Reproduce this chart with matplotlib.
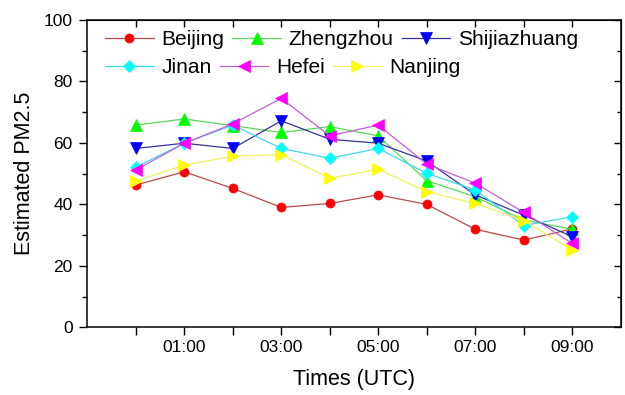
import numpy as np
import matplotlib
matplotlib.use("Agg")
import matplotlib.pyplot as plt
from matplotlib.ticker import MultipleLocator, FixedLocator, FixedFormatter

plt.rcParams['font.family'] = ['Liberation Sans', 'DejaVu Sans']

# hours (UTC) and estimated PM2.5 per city
hours = [0, 1, 2, 3, 4, 5, 6, 7, 8, 9]
beijing = [46.3, 50.6, 45.2, 39.0, 40.3, 43.1, 40.0, 31.9, 28.4, 32.0]
zhengzhou = [65.8, 67.8, 65.6, 63.4, 65.3, 62.3, 47.7, 42.5, 34.9, 31.9]
shijiazhuang = [58.2, 59.9, 58.2, 67.2, 61.2, 59.9, 54.1, 43.1, 36.5, 29.5]
jinan = [52.1, 59.9, 65.8, 58.2, 55.0, 58.2, 50.1, 44.7, 33.1, 36.0]
hefei = [51.2, 59.9, 66.2, 74.5, 62.3, 65.8, 53.1, 46.9, 37.4, 27.3]
nanjing = [47.6, 52.8, 55.7, 56.2, 48.5, 51.4, 44.1, 40.3, 34.7, 25.2]

tick_hours = [0, 1, 2, 3, 4, 5, 6, 7, 8, 9]
tick_labels = ['', '01:00', '', '03:00', '', '05:00', '', '07:00', '', '09:00']

# (name, data, marker, marker colour, line colour, marker size)
series = [
    ('Beijing', beijing, 'o', '#ff0000', '#b84a48', 6.5),
    ('Zhengzhou', zhengzhou, '^', '#00ff00', '#5cd65c', 8),
    ('Shijiazhuang', shijiazhuang, 'v', '#0000ff', '#333399', 8),
    ('Jinan', jinan, 'D', '#00ffff', '#40d8e8', 6),
    ('Hefei', hefei, '<', '#ff00ff', '#c060d8', 8),
    ('Nanjing', nanjing, '>', '#ffff00', '#f0f060', 8),
]

fig = plt.figure(figsize=(6.25, 3.95), dpi=100)
ax = fig.add_axes([87.3 / 625, 1 - 327.3 / 395, 533.4 / 625, 307.3 / 395])

handles = []
for name, vals, mk, mc, lc, ms in series:
    h, = ax.plot(hours, vals, color=lc, lw=0.9, marker=mk, ms=ms,
                 markerfacecolor=mc, markeredgecolor=mc, markeredgewidth=0.5,
                 label=name)
    handles.append(h)

ax.set_xlim(-1, 10)
ax.set_ylim(0, 100)
ax.xaxis.set_major_locator(FixedLocator(tick_hours))
ax.xaxis.set_major_formatter(FixedFormatter(tick_labels))
ax.yaxis.set_major_locator(MultipleLocator(20))
ax.yaxis.set_minor_locator(MultipleLocator(10))

ax.tick_params(axis='both', which='major', direction='out', length=6, width=1,
               labelsize=12.5, colors='black')
ax.tick_params(axis='x', which='major', pad=3)
ax.tick_params(axis='y', which='major', pad=4.5)
ax.tick_params(axis='y', which='minor', direction='out', length=3.6, width=1)
for sp in ax.spines.values():
    sp.set_linewidth(1.1)

top = ax.secondary_xaxis('top')
top.xaxis.set_major_locator(FixedLocator(tick_hours))
top.tick_params(direction='in', length=5, width=1, labeltop=False)
right = ax.secondary_yaxis('right')
right.yaxis.set_major_locator(MultipleLocator(20))
right.yaxis.set_minor_locator(MultipleLocator(10))
right.tick_params(which='major', direction='in', length=5, width=1, labelright=False)
right.tick_params(which='minor', direction='in', length=3, width=1)

ax.set_xlabel('Times (UTC)', fontsize=15.5)
ax.set_ylabel('Estimated PM2.5', fontsize=15.5)
ax.xaxis.set_label_coords(0.5, -0.135)
ax.yaxis.set_label_coords(-0.098, 0.5)

leg_kw = dict(loc='center left', ncol=3, frameon=False, fontsize=15,
              handlelength=2.35, handletextpad=0.37, columnspacing=0.37,
              borderpad=0, borderaxespad=0, numpoints=1)
leg1 = ax.legend(handles=handles[:3], bbox_to_anchor=(0.033, 0.935), **leg_kw)
ax.add_artist(leg1)
ax.legend(handles=handles[3:], bbox_to_anchor=(0.033, 0.845), **leg_kw)

fig.savefig('out.png', dpi=100)
